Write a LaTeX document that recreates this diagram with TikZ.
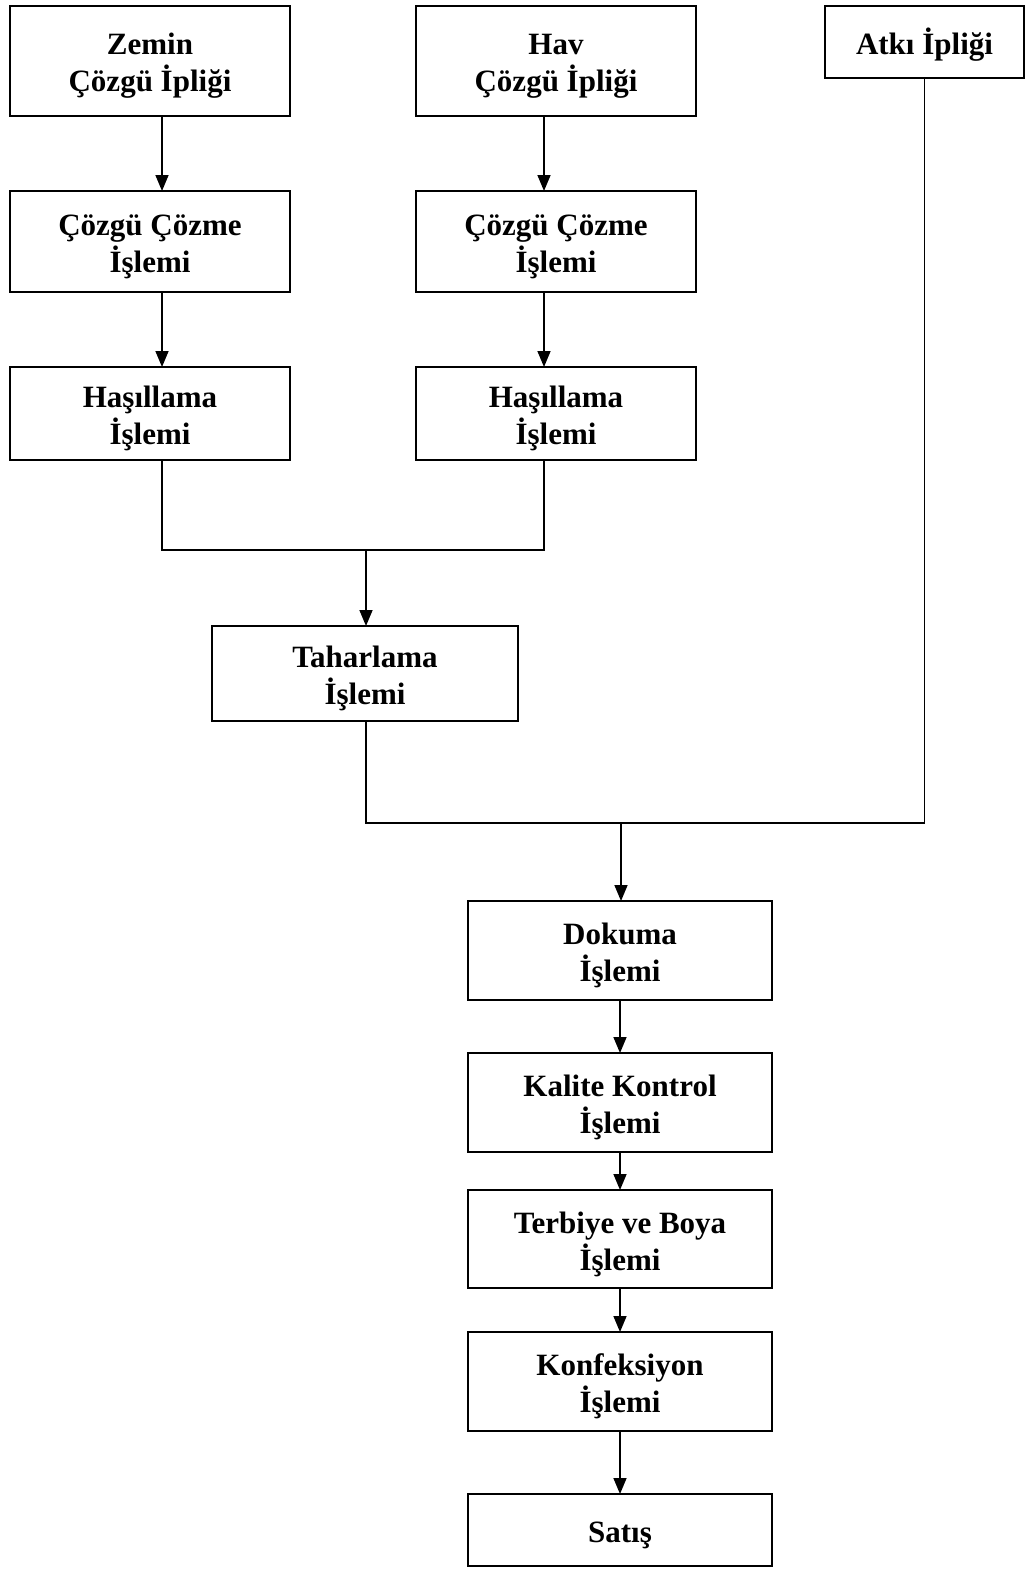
\documentclass[tikz,border=0pt]{standalone}
\usepackage{fontspec}
\setmainfont{Liberation Serif}
\usetikzlibrary{arrows.meta}
\usetikzlibrary{positioning}

\begin{document}
\begin{tikzpicture}[x=1pt,y=-1pt,
    kutu/.style={draw,line width=1.6pt,outer sep=0pt,align=center,inner sep=2pt,
      text height=34pt,text depth=9pt,
      font=\fontsize{31}{37}\selectfont\bfseries,minimum width=280pt},
    iki/.style={kutu,text height=71pt},
    ok/.style={-{Triangle[length=16pt,width=13pt]},line width=1.6pt},
    cizgi/.style={line width=1.6pt}]
    \useasboundingbox (0,0) rectangle (1027,1571);

    % ust satir
    \node[iki,minimum height=110pt] (zemin) at (150,61) {Zemin\\Çözgü İpliği};
    \node[iki,minimum height=110pt] (hav) at (556,61) {Hav\\Çözgü İpliği};
    \node[kutu,minimum width=199pt,minimum height=72pt] (atki) at (924.5,42) {Atkı İpliği};

    % sol ve sag kolon
    \node[iki,minimum height=101pt] (cozmeA) [below=75pt of zemin] {Çözgü Çözme\\İşlemi};
    \node[iki,minimum height=93pt] (hasilA) [below=75pt of cozmeA] {Haşıllama\\İşlemi};
    \node[iki,minimum height=101pt] (cozmeB) [below=75pt of hav] {Çözgü Çözme\\İşlemi};
    \node[iki,minimum height=93pt] (hasilB) [below=75pt of cozmeB] {Haşıllama\\İşlemi};

    % taharlama ve dokuma
    \node[iki,minimum width=306pt,minimum height=95pt] (tahar) at (365,673.5) {Taharlama\\İşlemi};
    \node[iki,minimum width=304pt,minimum height=99pt] (dokuma) at (620,950.5) {Dokuma\\İşlemi};
    \node[iki,minimum width=304pt,minimum height=99pt] (kalite) [below=53pt of dokuma] {Kalite Kontrol\\İşlemi};
    \node[iki,minimum width=304pt,minimum height=98pt] (terbiye) [below=38pt of kalite] {Terbiye ve Boya\\İşlemi};
    \node[iki,minimum width=304pt,minimum height=99pt] (konf) [below=44pt of terbiye] {Konfeksiyon\\İşlemi};
    \node[kutu,minimum width=304pt,minimum height=72pt] (satis) [below=63pt of konf] {Satış};

    \coordinate (birlesA) at (366,550);
    \coordinate (birlesB) at (621,823);

    % baglantilar
    \draw[ok] ([xshift=12pt]zemin.south) -- ([xshift=12pt]cozmeA.north);
    \draw[ok] ([xshift=12pt]cozmeA.south) -- ([xshift=12pt]hasilA.north);
    \draw[ok] ([xshift=-12pt]hav.south) -- ([xshift=-12pt]cozmeB.north);
    \draw[ok] ([xshift=-12pt]cozmeB.south) -- ([xshift=-12pt]hasilB.north);
    \draw[cizgi] ([xshift=12pt]hasilA.south) |- (birlesA) -| ([xshift=-12pt]hasilB.south);
    \draw[ok] (birlesA) -- (birlesA |- tahar.north);
    \draw[cizgi] (birlesA |- tahar.south) |- (birlesB) -| (atki.south);
    \draw[ok] (birlesB) -- (birlesB |- dokuma.north);
    \draw[ok] (dokuma) -- (kalite);
    \draw[ok] (kalite) -- (terbiye);
    \draw[ok] (terbiye) -- (konf);
    \draw[ok] (konf) -- (satis);
\end{tikzpicture}
\end{document}
